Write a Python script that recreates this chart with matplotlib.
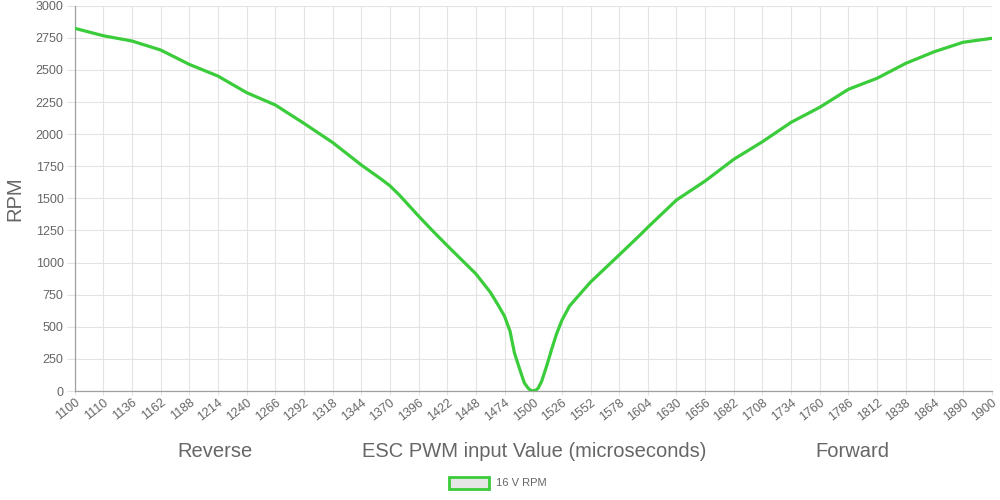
import numpy as np
import matplotlib.pyplot as plt
from matplotlib.patches import Rectangle

plt.rcParams['font.family'] = ['Liberation Sans', 'DejaVu Sans']

# x-axis category labels as shown on the chart
tick_labels = [1100, 1110] + list(range(1136, 1891, 26)) + [1900]

# readings of the 16 V curve (pwm in microseconds, rpm)
pwm = [1100, 1110, 1136, 1162, 1188, 1214, 1240, 1266, 1292, 1318,
       1344, 1362, 1370, 1379, 1396, 1409, 1422, 1448, 1461, 1468, 1474,
       1479, 1483, 1488, 1492, 1495.5, 1497.7, 1500, 1502.3, 1504.5,
       1507.5, 1512, 1517, 1521, 1526, 1533, 1545, 1552, 1578, 1597,
       1604, 1630, 1656, 1682, 1708, 1734, 1760, 1786, 1812, 1838,
       1864, 1890, 1900]
rpm = [2824, 2766, 2725, 2655, 2543, 2452, 2323, 2227, 2084, 1935,
       1760, 1650, 1598, 1522, 1362, 1245, 1132, 912, 770, 672, 582,
       465, 296, 163, 62, 21, 5, 2, 6, 22,
       72, 189, 332, 440, 550, 662, 780, 848, 1059, 1215,
       1275, 1487, 1635, 1804, 1941, 2092, 2209, 2349, 2435, 2551,
       2642, 2715, 2746]

# category axis: each label sits on one equally spaced slot
slots = np.arange(len(tick_labels))
x_pos = np.interp(pwm, tick_labels, slots)

fig = plt.figure(figsize=(10, 5), dpi=100)
ax = fig.add_axes([0.0747, 0.218, 0.917, 0.7706])

ax.plot(x_pos, rpm, color="#3acc3a", linewidth=2.3,
        solid_joinstyle="round", solid_capstyle="round", zorder=3)

ax.set_xlim(0, len(tick_labels) - 1)
ax.set_ylim(0, 3000)
ax.set_xticks(slots)
ax.set_xticklabels([str(t) for t in tick_labels], rotation=38,
                   ha="right", rotation_mode="anchor",
                   fontsize=9, color="#666666")
ax.set_yticks(range(0, 3001, 250))
ax.set_yticklabels([str(v) for v in range(0, 3001, 250)],
                   fontsize=9, color="#666666")

ax.grid(True, color="#e3e3e3", linewidth=0.8, zorder=0)
ax.tick_params(axis="y", length=6, color="#e3e3e3", pad=2)
ax.tick_params(axis="x", length=3, color="#e3e3e3", pad=1)
for side in ["top", "right"]:
    ax.spines[side].set_visible(False)
for side in ["left", "bottom"]:
    ax.spines[side].set_color("#a0a0a0")
    ax.spines[side].set_linewidth(0.9)

ax.set_ylabel("RPM", fontsize=14.5, color="#666666", labelpad=8)

# x-axis title with direction hints
fig.text(0.215, 0.097, "Reverse", fontsize=14.5, color="#666666",
         ha="center", va="center")
fig.text(0.534, 0.097, "ESC PWM input Value (microseconds)", fontsize=14.5,
         color="#666666", ha="center", va="center")
fig.text(0.852, 0.097, "Forward", fontsize=14.5, color="#666666",
         ha="center", va="center")

# legend
fig.patches.append(Rectangle((0.449, 0.022), 0.040, 0.024,
                             transform=fig.transFigure, facecolor="#e6e6e6",
                             edgecolor="#3acc3a", linewidth=2))
fig.text(0.496, 0.034, "16 V RPM", fontsize=8, color="#666666",
         ha="left", va="center")

fig.savefig("out.png", dpi=100)
